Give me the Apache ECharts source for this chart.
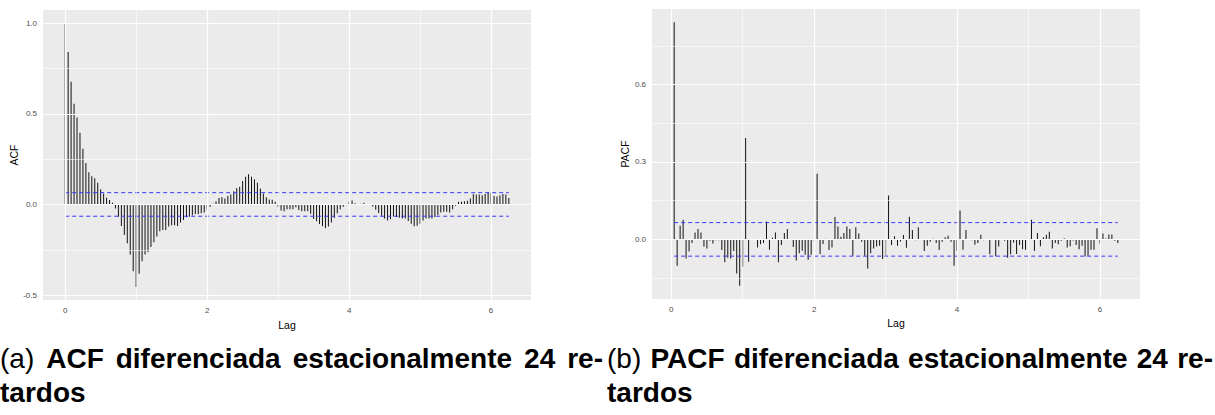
<!DOCTYPE html>
<html>
<head>
<meta charset="utf-8">
<script src="https://cdn.jsdelivr.net/npm/echarts@6/dist/echarts.min.js"></script>
<style>
  html, body { margin: 0; padding: 0; background: #ffffff; }
  #wrap { position: relative; width: 1215px; height: 415px; overflow: hidden; }
  #chart { position: absolute; left: 0; top: 0; width: 1215px; height: 335px; }
  .cap { position: absolute; font-family: "Liberation Sans", Arial, sans-serif; font-size: 28px; line-height: 34px; color: #000; }
  .cap .l1 { text-align: justify; text-align-last: justify; white-space: normal; }
  .cap b { font-weight: bold; }
</style>
</head>
<body>
<div id="wrap">
  <div id="chart"></div>
  <div class="cap" style="left:0px; top:342px; width:603px;">
    <div class="l1">(a) <b>ACF diferenciada estacionalmente 24 re-</b></div>
    <div><b>tardos</b></div>
  </div>
  <div class="cap" style="left:607px; top:342px; width:606px;">
    <div class="l1">(b) <b>PACF diferenciada estacionalmente 24 re-</b></div>
    <div><b>tardos</b></div>
  </div>
</div>
<script>
// ---- data ----
const FREQ = 24;            // seasonal frequency: lag unit = 24 observations
const CI = 0.065;           // confidence bound (+/-)
// ACF, lags 0..150
const acfValues = [
  1.000, 0.841, 0.677, 0.555, 0.480, 0.396, 0.307, 0.228, 0.177, 0.155,
  0.144, 0.119, 0.084, 0.060, 0.037, 0.024, 0.009, -0.022, -0.068, -0.119,
  -0.168, -0.214, -0.276, -0.369, -0.455, -0.382, -0.314, -0.276, -0.263, -0.235,
  -0.208, -0.177, -0.148, -0.141, -0.141, -0.122, -0.115, -0.115, -0.119, -0.100,
  -0.086, -0.071, -0.068, -0.060, -0.053, -0.053, -0.049, -0.044, -0.029, -0.013,
  0.004, 0.018, 0.035, 0.040, 0.033, 0.046, 0.055, 0.073, 0.089, 0.097,
  0.130, 0.153, 0.166, 0.153, 0.139, 0.119, 0.088, 0.060, 0.040, 0.027,
  0.026, 0.015, -0.013, -0.033, -0.038, -0.027, -0.027, -0.026, -0.015, -0.031,
  -0.037, -0.038, -0.038, -0.051, -0.080, -0.093, -0.108, -0.120, -0.131, -0.122,
  -0.099, -0.075, -0.049, -0.027, -0.013, -0.005, 0.015, 0.022, 0.007, 0.001,
  0.004, 0.009, 0.001, -0.002, -0.011, -0.029, -0.047, -0.062, -0.077, -0.088,
  -0.080, -0.066, -0.069, -0.073, -0.077, -0.077, -0.091, -0.106, -0.120, -0.117,
  -0.106, -0.088, -0.077, -0.077, -0.077, -0.069, -0.058, -0.044, -0.040, -0.040,
  -0.044, -0.026, -0.007, 0.015, 0.015, 0.018, 0.020, 0.033, 0.057, 0.055,
  0.055, 0.051, 0.058, 0.069, 0.062, 0.047, 0.044, 0.051, 0.058, 0.055,
  0.036
];
// PACF, lags 1..150
const pacfValues = [
  0.842, -0.102, 0.053, 0.076, -0.074, -0.047, -0.014, 0.027, 0.040, 0.027,
  -0.028, -0.035, -0.005, -0.016, -0.003, -0.003, -0.041, -0.089, -0.071, -0.074,
  -0.045, -0.132, -0.180, -0.106, 0.393, -0.087, 0.001, -0.002, -0.031, -0.019,
  -0.014, 0.069, -0.040, 0.006, 0.027, -0.089, -0.022, 0.025, 0.040, 0.001,
  -0.030, -0.082, -0.054, -0.044, -0.060, -0.079, -0.060, -0.005, 0.254, -0.057,
  -0.018, 0.002, -0.041, -0.031, 0.087, 0.050, 0.010, 0.025, 0.050, 0.040,
  -0.063, 0.047, 0.023, -0.009, -0.063, -0.113, -0.054, -0.035, -0.028, -0.025,
  -0.076, -0.066, 0.170, -0.022, 0.012, -0.025, -0.008, 0.017, -0.032, 0.088,
  0.036, -0.003, 0.047, 0.001, -0.045, -0.025, -0.009, 0.002, -0.014, -0.041,
  -0.009, 0.008, 0.014, -0.009, -0.102, -0.044, 0.112, -0.040, 0.036, 0.001,
  -0.003, -0.021, -0.014, 0.018, -0.003, 0.001, -0.058, 0.001, -0.065, -0.028,
  0.001, -0.005, -0.071, -0.058, -0.012, -0.057, -0.022, -0.038, -0.040, 0.001,
  0.076, -0.044, 0.025, -0.027, 0.008, 0.018, 0.030, -0.035, -0.014, -0.019,
  -0.005, 0.004, -0.031, -0.027, -0.004, -0.022, -0.038, -0.025, -0.066, -0.063,
  -0.040, -0.040, 0.043, -0.016, 0.023, 0.003, 0.019, 0.019, -0.005, -0.014
];
const xTickValues = [0, 2, 4, 6];
const xMinorValues = [1, 3, 5];
const acfYTicks = [-0.5, 0, 0.5, 1.0];
const acfYMinor = [-0.25, 0.25, 0.75];
const pacfYTicks = [0, 0.3, 0.6];
const pacfYMinor = [-0.15, 0.15, 0.45, 0.75];

// ---- build ----
const acfData = acfValues.map((v, i) => [i / FREQ, v]);
const pacfData = pacfValues.map((v, i) => [(i + 1) / FREQ, v]);
const acfLagMax = (acfValues.length - 1) / FREQ;
const pacfLagMin = 1 / FREQ, pacfLagMax = pacfValues.length / FREQ;

function expand(lo, hi) { const d = (hi - lo) * 0.05; return [lo - d, hi + d]; }
const acfX = expand(0, acfLagMax);
const acfY = expand(Math.min(...acfValues), Math.max(...acfValues));
const pacfX = expand(pacfLagMin, pacfLagMax);
const pacfY = expand(Math.min(...pacfValues), Math.max(...pacfValues));

const FONT = '"Liberation Sans", Arial, sans-serif';
const tickLabel = { color: '#4D4D4D', fontSize: 8, fontFamily: FONT };
const titleStyle = { color: '#000000', fontSize: 10.5, fontFamily: FONT };

function xAxis(gi, rng) {
  return {
    type: 'value', gridIndex: gi, min: rng[0], max: rng[1],
    name: 'Lag', nameLocation: 'middle', nameGap: 15, nameTextStyle: titleStyle,
    axisLine: { show: false },
    axisTick: { show: true, length: 3, lineStyle: { color: '#333333', width: 0.8 }, customValues: xTickValues },
    axisLabel: Object.assign({ margin: 6, customValues: xTickValues, formatter: v => String(Math.round(v)) }, tickLabel),
    splitLine: { show: false }, minorSplitLine: { show: false }
  };
}
function yAxis(gi, rng, ticks, name, gap) {
  return {
    type: 'value', gridIndex: gi, min: rng[0], max: rng[1],
    name: name, nameLocation: 'middle', nameGap: gap, nameTextStyle: titleStyle,
    axisLine: { show: false },
    axisTick: { show: true, length: 3, lineStyle: { color: '#333333', width: 0.8 }, customValues: ticks },
    axisLabel: Object.assign({ margin: 6, customValues: ticks, formatter: v => v.toFixed(1) }, tickLabel),
    splitLine: { show: false }
  };
}
function gridLines(gi, xMajor, xMinor, yMajor, yMinor) {
  const maj = { color: '#FFFFFF', width: 1.2, type: 'solid' };
  const min = { color: '#FFFFFF', width: 0.6, type: 'solid' };
  const data = [];
  xMinor.forEach(v => data.push({ xAxis: v, lineStyle: min }));
  yMinor.forEach(v => data.push({ yAxis: v, lineStyle: min }));
  xMajor.forEach(v => data.push({ xAxis: v, lineStyle: maj }));
  yMajor.forEach(v => data.push({ yAxis: v, lineStyle: maj }));
  return {
    type: 'line', xAxisIndex: gi, yAxisIndex: gi, z: 1, silent: true,
    data: [[xMajor[0], yMajor[0]]], symbol: 'none', lineStyle: { opacity: 0 },
    markLine: { silent: true, symbol: ['none', 'none'], label: { show: false }, animation: false, data: data }
  };
}
function bars(gi, data) {
  return {
    type: 'bar', xAxisIndex: gi, yAxisIndex: gi, z: 3, data: data,
    barWidth: 1, itemStyle: { color: '#111111' }, silent: true
  };
}
function ciLine(gi, x0, x1, v) {
  return {
    type: 'line', xAxisIndex: gi, yAxisIndex: gi, z: 4, silent: true,
    data: [[x0, v], [x1, v]], symbol: 'none',
    lineStyle: { color: '#3A3AFF', width: 1, type: [4, 3] }
  };
}

const chart = echarts.init(document.getElementById('chart'), null, { renderer: 'svg' });
chart.setOption({
  animation: false,
  backgroundColor: '#FFFFFF',
  grid: [
    { left: 43, top: 10, width: 488, height: 291, show: true, backgroundColor: '#EBEBEB', borderWidth: 0 },
    { left: 652, top: 9, width: 488, height: 290, show: true, backgroundColor: '#EBEBEB', borderWidth: 0 }
  ],
  xAxis: [xAxis(0, acfX), xAxis(1, pacfX)],
  yAxis: [yAxis(0, acfY, acfYTicks, 'ACF', 24), yAxis(1, pacfY, pacfYTicks, 'PACF', 20)],
  series: [
    gridLines(0, xTickValues, xMinorValues, acfYTicks, acfYMinor),
    gridLines(1, xTickValues, xMinorValues, pacfYTicks, pacfYMinor),
    bars(0, acfData),
    bars(1, pacfData),
    ciLine(0, 0, acfLagMax, CI), ciLine(0, 0, acfLagMax, -CI),
    ciLine(1, pacfLagMin, pacfLagMax, CI), ciLine(1, pacfLagMin, pacfLagMax, -CI)
  ]
});
</script>
</body>
</html>
